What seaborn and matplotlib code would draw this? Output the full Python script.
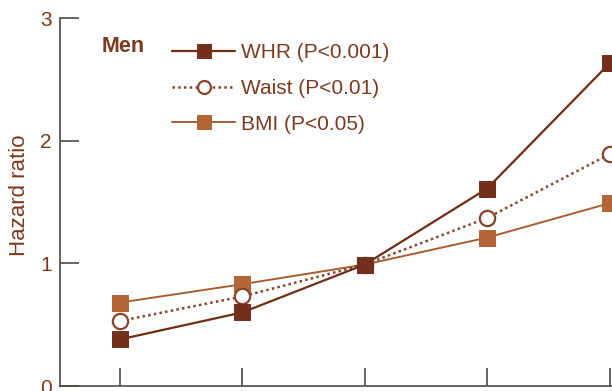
import pandas as pd
import matplotlib.pyplot as plt
import seaborn as sns

# --- DATA ---
groups = [1, 2, 3, 4, 5]
whr = [0.38, 0.60, 0.99, 1.61, 2.63]
waist = [0.53, 0.73, 0.99, 1.37, 1.89]
bmi = [0.68, 0.83, 0.99, 1.21, 1.49]
labels = ['WHR (P<0.001)', 'Waist (P<0.01)', 'BMI (P<0.05)']

brown_dark = '#6e2d14'
brown_mid = '#86442a'
brown_light = '#a85d33'
text_col = '#7a3a20'
axis_col = '#4f4a42'

sns.set_style("white")
plt.rcParams['font.family'] = ['Liberation Sans', 'DejaVu Sans']

fig = plt.figure(figsize=(6.12, 3.91), dpi=100)
ax = fig.add_axes([60 / 612, 5 / 391, 552 / 612, 368 / 391])

df = pd.DataFrame({'grupo': groups, 'WHR': whr, 'Waist': waist, 'BMI': bmi})

# BMI primeiro (fica atrás)
sns.lineplot(x='grupo', y='BMI', data=df, ax=ax, color=brown_light, lw=1.4,
             marker='s', markersize=12, markerfacecolor='#b26536',
             markeredgecolor='#b26536', label=labels[2], clip_on=False)
sns.lineplot(x='grupo', y='Waist', data=df, ax=ax, color=brown_mid, lw=1.8,
             linestyle=(0, (1, 1.3)), marker='o', markersize=11,
             markerfacecolor='white', markeredgecolor=brown_mid,
             markeredgewidth=1.6, label=labels[1], clip_on=False)
sns.lineplot(x='grupo', y='WHR', data=df, ax=ax, color=brown_dark, lw=1.6,
             marker='s', markersize=12, markerfacecolor='#73301a',
             markeredgecolor='#73301a', label=labels[0], clip_on=False)

ax.set_xlim(0.51, 5.02)
ax.set_ylim(0, 3)
ax.set_xticks(groups)
ax.set_xticklabels([])
ax.set_yticks([0, 1, 2, 3])
ax.set_yticklabels(['0', '1', '2', '3'], fontsize=15, color=text_col)
ax.tick_params(axis='y', direction='in', length=14, width=1.2, colors=axis_col,
               labelcolor=text_col, pad=6, left=True)
ax.tick_params(axis='x', direction='in', length=13, width=1.2, colors=axis_col,
               bottom=True)
ax.set_xlabel('')
ax.set_ylabel('')

for side in ['top', 'right']:
    ax.spines[side].set_visible(False)
for side in ['left', 'bottom']:
    ax.spines[side].set_color(axis_col)
    ax.spines[side].set_linewidth(1.2)

# Rótulo do eixo y
fig.text(20 / 612, 1 - 195 / 391, 'Hazard ratio', fontsize=16, color=text_col,
         rotation=90, va='center', ha='center')

# Legenda
handles, lbls = ax.get_legend_handles_labels()
order = [2, 1, 0]
leg = ax.legend([handles[i] for i in order], [lbls[i] for i in order],
                loc='upper left', bbox_to_anchor=(162 / 612, 1 - 33 / 391),
                bbox_transform=fig.transFigure, frameon=False, fontsize=15,
                handlelength=3.0, handletextpad=0.3, labelspacing=0.8,
                markerscale=0.85, borderpad=0.0)
for t in leg.get_texts():
    t.set_color(text_col)

fig.text(102 / 612, 1 - 47 / 391, 'Men', fontsize=15.5, fontweight='bold',
         color=text_col, va='center', ha='left')

plt.savefig('out.png', dpi=100)
